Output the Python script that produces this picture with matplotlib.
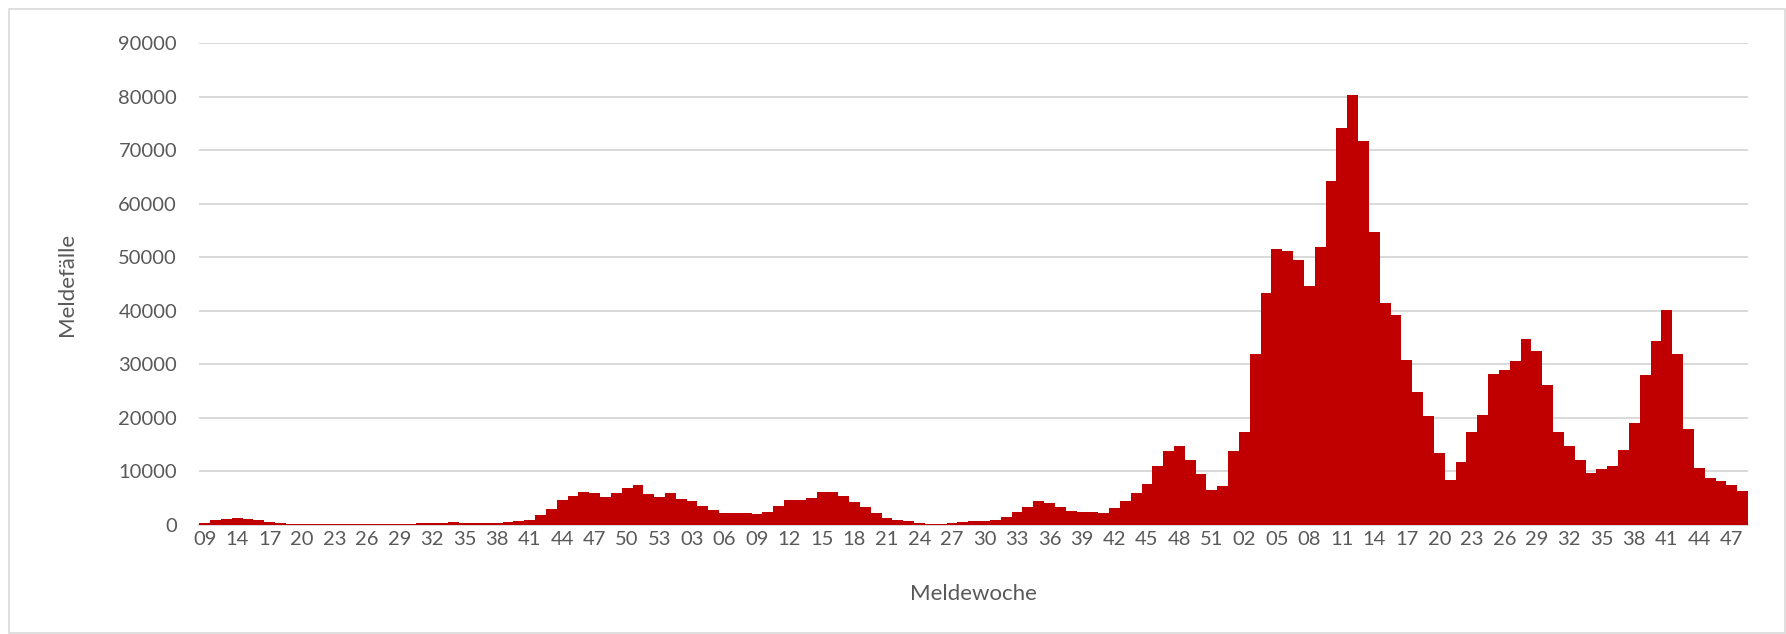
import matplotlib
matplotlib.use("Agg")
import matplotlib.pyplot as plt
from matplotlib.patches import Rectangle
import numpy as np

plt.rcParams['font.family'] = ['Lato', 'DejaVu Sans']

# Meldewochen (categories): 2020 (from 09), 2021, 2022 (to 48)
weeks_2020 = ["09", "12", "13"] + [f"{w:02d}" for w in range(14, 54)]
weeks_2021 = [f"{w:02d}" for w in range(1, 53)]
weeks_2022 = [f"{w:02d}" for w in range(1, 49)]
weeks = weeks_2020 + weeks_2021 + weeks_2022

cases_2020 = [300, 1000, 1200, 1300, 1200, 900, 500, 300, 250, 200,
              200, 150, 150, 150, 150, 150, 150, 200, 200, 250,
              300, 300, 350, 600, 350, 300, 350, 450, 600, 700,
              1000, 1800, 3000, 4700, 5400, 6100, 5900, 5200, 6000, 6850,
              7500, 5800, 5300]
cases_2021 = [5900, 4800, 4500, 3500, 2800, 2300, 2200, 2200, 2000, 2500,
              3500, 4600, 4700, 5000, 6100, 6100, 5500, 4300, 3300, 2300,
              1300, 1000, 700, 400, 250, 200, 300, 500, 700, 800,
              900, 1500, 2400, 3300, 4400, 4200, 3300, 2600, 2500, 2500,
              2300, 3200, 4400, 5950, 7600, 11000, 13800, 14800, 12100, 9500,
              6550, 7350]
cases_2022 = [13800, 17450, 32000, 43300, 51500, 51200, 49600, 44600, 52000, 64200,
              74200, 80300, 71800, 54800, 41400, 39200, 30800, 24800, 20300, 13400,
              8400, 11700, 17400, 20500, 28200, 28900, 30600, 34700, 32500, 26200,
              17400, 14700, 12200, 9800, 10400, 11000, 14000, 19000, 28100, 34300,
              40100, 31900, 17900, 10700, 8700, 8200, 7500, 6400]
cases = cases_2020 + cases_2021 + cases_2022

y_ticks = [0, 10000, 20000, 30000, 40000, 50000, 60000, 70000, 80000, 90000]

W, H = 1786, 634
fig = plt.figure(figsize=(W / 100, H / 100), dpi=100)
ax = fig.add_axes([199.3 / W, 1 - 525 / H, (1748 - 199.3) / W, (525 - 43.3) / H])

x = np.arange(len(weeks))
ax.bar(x, cases, width=1.0, color='#C00000', linewidth=0, zorder=3)

ax.set_xlim(-0.5, len(weeks) - 0.5)
ax.set_ylim(0, 90000)
ax.set_yticks(y_ticks)
ax.set_yticklabels([str(v) for v in y_ticks])
ax.set_xticks(x[::3])
ax.set_xticklabels(weeks[::3])

ax.grid(axis='y', color='#D9D9D9', linewidth=1.4, zorder=0)
ax.set_axisbelow(True)
for s in ['top', 'right', 'left']:
    ax.spines[s].set_visible(False)
ax.spines['bottom'].set_color('#D9D9D9')
ax.spines['bottom'].set_linewidth(1.4)

ax.tick_params(axis='both', length=0, colors='#595959', labelsize=14.5)
ax.tick_params(axis='y', pad=16)
ax.tick_params(axis='x', pad=4)

ax.set_ylabel('Meldefälle', fontsize=16, color='#595959', labelpad=30)
ax.set_xlabel('Meldewoche', fontsize=16, color='#595959', labelpad=26)

fig.patches.append(Rectangle((9 / W, 1 / H), (W - 10) / W, (H - 10) / H,
                             transform=fig.transFigure, fill=False,
                             edgecolor='#D9D9D9', linewidth=1.2))

fig.savefig('out.png', dpi=100)
